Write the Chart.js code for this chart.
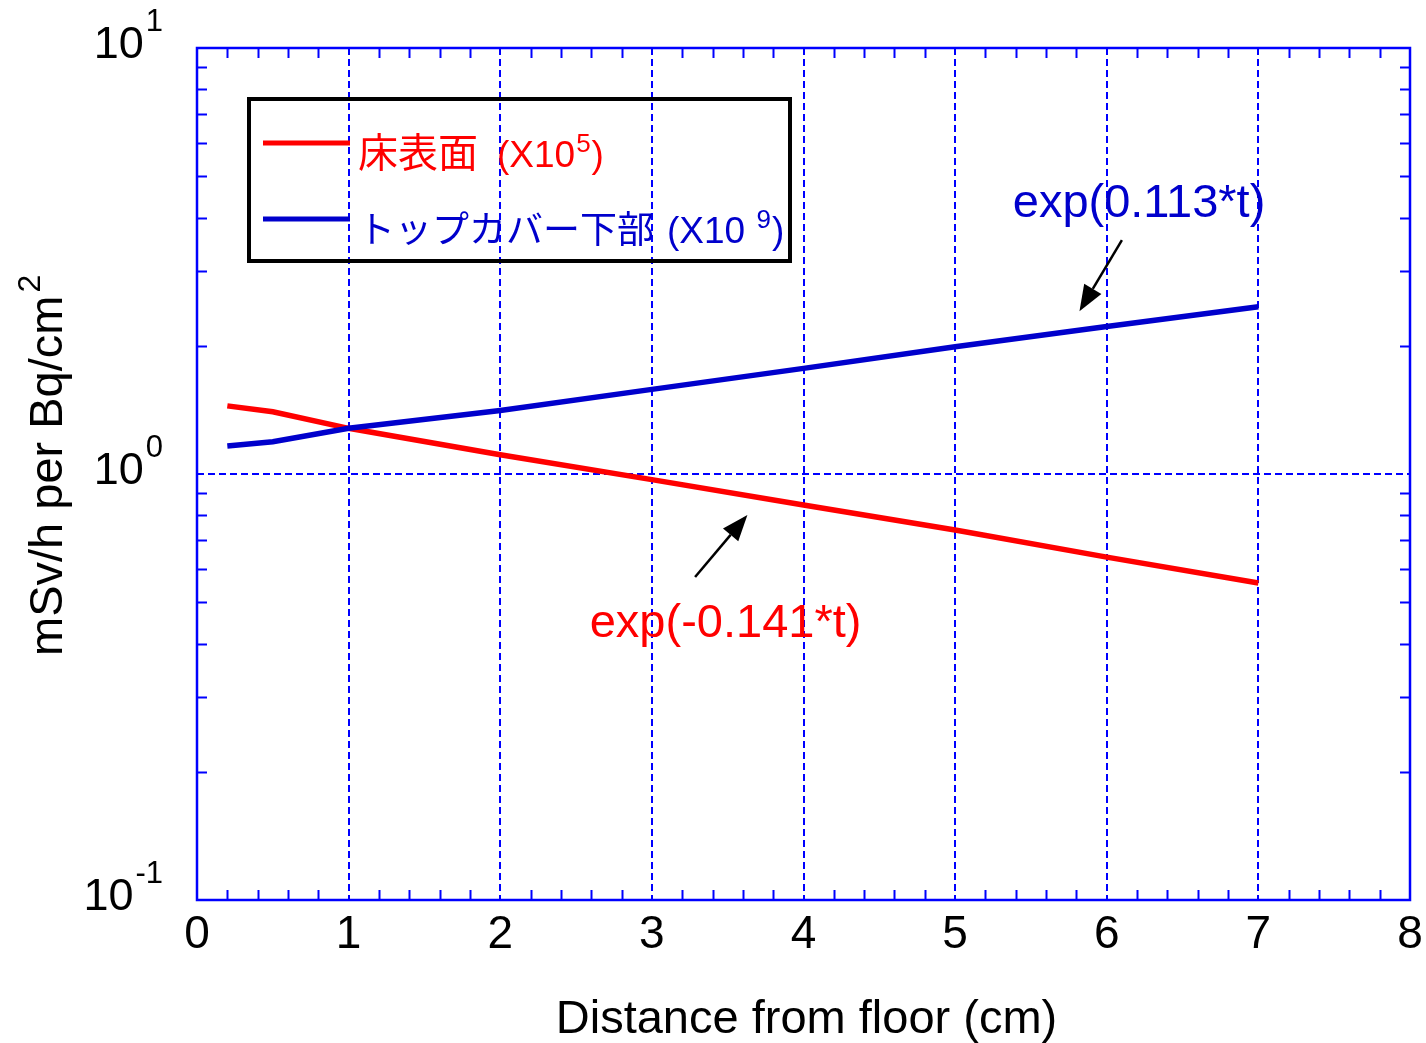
<!DOCTYPE html>
<html>
<head>
<meta charset="utf-8">
<title>Dose rate vs distance from floor</title>
<script src="https://cdn.jsdelivr.net/npm/chart.js@4.4.1/dist/chart.umd.min.js"></script>
<style>
  html, body { margin: 0; padding: 0; background: #fff; }
  #wrap { width: 1426px; height: 1043px; }
</style>
</head>
<body>
<div id="wrap"><canvas id="doseChart" width="1426" height="1043"></canvas></div>
<script>
// DATA
const distance = [0.2, 0.5, 1, 2, 3, 4, 5, 6, 7];
const floorSurface = [1.445, 1.40, 1.28, 1.11, 0.97, 0.846, 0.739, 0.638, 0.555];
const topCoverUnder = [1.163, 1.19, 1.28, 1.41, 1.58, 1.77, 1.99, 2.22, 2.47];
const xTickLabels = ['0', '1', '2', '3', '4', '5', '6', '7', '8'];
const yExponents = [-1, 0, 1];

const seriesNames = ['床表面', 'トップカバー下部'];
const seriesFactor = ['5', '9'];
const fitLabels = ['exp(-0.141*t)', 'exp(0.113*t)'];
// annotation anchors in data units: [textX, textY, tailX, tailY, tipX, tipY]
const fitAnchors = [
    [2.59, 0.414, 3.285, 0.573, 3.63, 0.801],
    [5.38, 4.01, 6.10, 3.54, 5.82, 2.41]
];

// THEME
const RED = '#ff0000';
const BLUE = '#0000cc';
const FRAME = '#0000ff';
const LATIN = '"Liberation Sans", Arial, sans-serif';
const CJK = '"Noto Sans CJK JP", "Liberation Sans", sans-serif';

function isDecade(v) {
    const l = Math.log10(v);
    return Math.abs(l - Math.round(l)) < 1e-9;
}

// text with a raised part, e.g. 10^1
function drawSup(ctx, x, y, base, sup, baseSize, supSize, rise, gap) {
    ctx.font = baseSize + 'px ' + LATIN;
    ctx.fillText(base, x, y);
    const w = ctx.measureText(base).width;
    ctx.font = supSize + 'px ' + LATIN;
    ctx.fillText(sup, x + w + gap, y - rise);
    return x + w + gap + ctx.measureText(sup).width;
}

function drawArrow(ctx, x1, y1, x2, y2) {
    const ang = Math.atan2(y2 - y1, x2 - x1);
    const headLen = 26, headW = 10;
    const bx = x2 - headLen * Math.cos(ang), by = y2 - headLen * Math.sin(ang);
    ctx.beginPath();
    ctx.moveTo(x1, y1);
    ctx.lineTo(bx, by);
    ctx.stroke();
    ctx.beginPath();
    ctx.moveTo(x2, y2);
    ctx.lineTo(bx + headW * Math.sin(ang), by - headW * Math.cos(ang));
    ctx.lineTo(bx - headW * Math.sin(ang), by + headW * Math.cos(ang));
    ctx.closePath();
    ctx.fill();
}

const decorations = {
    id: 'decorations',
    beforeDatasetsDraw(chart) {
        const { ctx, chartArea: a, scales: { x, y } } = chart;
        ctx.save();
        ctx.strokeStyle = FRAME;
        ctx.lineWidth = 2;
        ctx.beginPath();
        // minor ticks on x, every 0.2
        for (let i = 1; i < 40; i++) {
            if (i % 5 === 0) continue;
            const px = Math.round(x.getPixelForValue(i / 5)) + 0.5;
            ctx.moveTo(px, a.bottom); ctx.lineTo(px, a.bottom - 10);
            ctx.moveTo(px, a.top); ctx.lineTo(px, a.top + 10);
        }
        // minor ticks on y, 2..9 per decade
        for (let e = yExponents[0]; e < yExponents[yExponents.length - 1]; e++) {
            for (let m = 2; m <= 9; m++) {
                const py = Math.round(y.getPixelForValue(m * Math.pow(10, e))) + 0.5;
                ctx.moveTo(a.left, py); ctx.lineTo(a.left + 10, py);
                ctx.moveTo(a.right, py); ctx.lineTo(a.right - 10, py);
            }
        }
        ctx.stroke();
        ctx.lineWidth = 2.5;
        ctx.strokeRect(a.left, a.top, a.right - a.left, a.bottom - a.top);
        ctx.restore();
    },
    afterDatasetsDraw(chart) {
        const { ctx, chartArea: a, scales: { x, y } } = chart;
        ctx.save();
        ctx.textAlign = 'left';
        ctx.textBaseline = 'alphabetic';

        // y tick labels 10^n
        ctx.fillStyle = '#000';
        yExponents.forEach(e => {
            const py = y.getPixelForValue(Math.pow(10, e));
            ctx.font = '45px ' + LATIN;
            const wb = ctx.measureText('10').width;
            ctx.font = '31px ' + LATIN;
            const ws = ctx.measureText(String(e)).width;
            drawSup(ctx, 163 - wb - ws - 2, py + 10, '10', String(e), 45, 31, 27, 2);
        });

        // axis titles
        ctx.font = '47px ' + LATIN;
        ctx.textAlign = 'center';
        ctx.fillText('Distance from floor (cm)', (a.left + a.right) / 2 + 3, 1033);
        ctx.save();
        ctx.translate(62, 656);
        ctx.rotate(-Math.PI / 2);
        ctx.textAlign = 'left';
        drawSup(ctx, 0, 0, 'mSv/h per Bq/cm', '2', 47, 32, 22, 3);
        ctx.restore();

        // fit annotations
        ctx.textAlign = 'left';
        ctx.strokeStyle = '#000';
        ctx.fillStyle = '#000';
        ctx.lineWidth = 2.5;
        fitAnchors.forEach(f => {
            drawArrow(ctx, x.getPixelForValue(f[2]), y.getPixelForValue(f[3]),
                x.getPixelForValue(f[4]), y.getPixelForValue(f[5]));
        });
        ctx.font = '47px ' + LATIN;
        [RED, BLUE].forEach((c, i) => {
            ctx.fillStyle = c;
            ctx.fillText(fitLabels[i], x.getPixelForValue(fitAnchors[i][0]), y.getPixelForValue(fitAnchors[i][1]));
        });

        // legend box
        ctx.strokeStyle = '#000';
        ctx.lineWidth = 4;
        ctx.strokeRect(249, 99, 541, 162);
        [[RED, 143, 40, 497, '(X10'], [BLUE, 219, 37, 667, '(X10 ']].forEach(([c, ly, cjkSize, latinX, pre], i) => {
            ctx.strokeStyle = c;
            ctx.fillStyle = c;
            ctx.lineWidth = 5;
            ctx.beginPath();
            ctx.moveTo(263, ly); ctx.lineTo(350, ly);
            ctx.stroke();
            ctx.font = cjkSize + 'px ' + CJK;
            ctx.fillText(seriesNames[i], 358, ly + 24);
            const tx = drawSup(ctx, latinX, ly + 24, pre, seriesFactor[i], 37, 26, 15, 1);
            ctx.font = '37px ' + LATIN;
            ctx.fillText(')', tx + 1, ly + 24);
        });
        ctx.restore();
    }
};

new Chart(document.getElementById('doseChart'), {
    type: 'line',
    data: {
        datasets: [
            {
                label: seriesNames[0],
                data: distance.map((d, i) => ({ x: d, y: floorSurface[i] })),
                borderColor: RED,
                borderWidth: 5.5,
                pointRadius: 0,
                tension: 0,
                order: 1
            },
            {
                label: seriesNames[1],
                data: distance.map((d, i) => ({ x: d, y: topCoverUnder[i] })),
                borderColor: BLUE,
                borderWidth: 5.5,
                pointRadius: 0,
                tension: 0,
                order: 0
            }
        ]
    },
    options: {
        responsive: false,
        animation: false,
        layout: { padding: { top: 48, right: 16, left: 0, bottom: 0 } },
        plugins: { legend: { display: false }, tooltip: { enabled: false } },
        scales: {
            x: {
                type: 'linear',
                min: 0,
                max: 8,
                afterFit: s => { s.height = 143; s.paddingLeft = 0; s.paddingRight = 0; },
                ticks: {
                    stepSize: 1,
                    padding: 8,
                    color: '#000',
                    font: { family: LATIN, size: 46 },
                    callback: v => xTickLabels[v]
                },
                grid: {
                    drawTicks: false,
                    lineWidth: 2,
                    color: c => (c.tick && c.tick.value > 0 && c.tick.value < 8) ? FRAME : 'rgba(0,0,0,0)'
                },
                border: { display: false, dash: [7, 4] }
            },
            y: {
                type: 'logarithmic',
                min: 0.1,
                max: 10,
                afterFit: s => { s.width = 197; },
                ticks: { display: false, autoSkip: false },
                grid: {
                    drawTicks: false,
                    lineWidth: 2,
                    color: c => (c.tick && isDecade(c.tick.value) && c.tick.value > 0.1 && c.tick.value < 10) ? FRAME : 'rgba(0,0,0,0)'
                },
                border: { display: false, dash: [7, 4] }
            }
        }
    },
    plugins: [decorations]
});
</script>
</body>
</html>
